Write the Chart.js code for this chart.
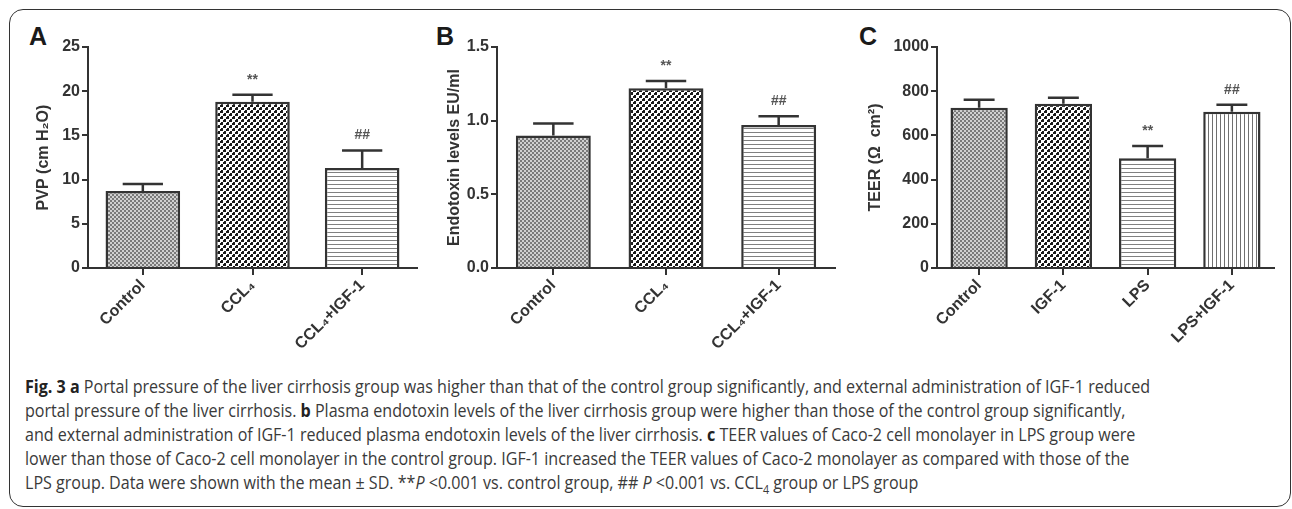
<!DOCTYPE html>
<html>
<head>
<meta charset="utf-8">
<script src="https://cdn.jsdelivr.net/npm/chart.js@4.4.1/dist/chart.umd.min.js"></script>
<style>
  body { margin: 0; background: #fff; width: 1292px; height: 509px; overflow: hidden; position: relative; }
  .frame { position: absolute; left: 9px; top: 9px; width: 1280px; height: 496px; border: 1.5px solid #333; border-radius: 14px; }
  .panel { position: absolute; top: 20px; height: 340px; }
  .letter { position: absolute; top: 22px; font: bold 25px "Liberation Sans", Arial, sans-serif; color: #1a1a1a; }
  .caption { position: absolute; left: 25px; top: 374px; font-family: "Open Sans", sans-serif; font-size: 18px;
             line-height: 24px; color: #3a3a3a; white-space: nowrap; transform-origin: 0 0; }
  .caption b { font-weight: 700; color: #222; }
</style>
</head>
<body>
<div class="frame"></div>

<div class="letter" style="left:29px">A</div>
<div class="letter" style="left:436px">B</div>
<div class="letter" style="left:859px">C</div>

<div class="panel" style="left:10px;width:410px"><canvas id="chartA"></canvas></div>
<div class="panel" style="left:420px;width:418px"><canvas id="chartB"></canvas></div>
<div class="panel" style="left:840px;width:437px"><canvas id="chartC"></canvas></div>

<div class="caption" id="caption">
  <div id="line1"><b>Fig. 3 a</b> Portal pressure of the liver cirrhosis group was higher than that of the control group significantly, and external administration of IGF-1 reduced</div>
  <div>portal pressure of the liver cirrhosis. <b>b</b> Plasma endotoxin levels of the liver cirrhosis group were higher than those of the control group significantly,</div>
  <div>and external administration of IGF-1 reduced plasma endotoxin levels of the liver cirrhosis. <b>c</b> TEER values of Caco-2 cell monolayer in LPS group were</div>
  <div>lower than those of Caco-2 cell monolayer in the control group. IGF-1 increased the TEER values of Caco-2 monolayer as compared with those of the</div>
  <div>LPS group. Data were shown with the mean ± SD. **<i>P</i> &lt;0.001 vs. control group, ## <i>P</i> &lt;0.001 vs. CCL<sub style="font-size:12px">4</sub> group or LPS group</div>
</div>

<script>
// panel A: portal venous pressure
const labelsA = ["Control", "CCL₄", "CCL₄+IGF-1"];
const meanA = [8.7, 18.8, 11.3];
const sdA = [0.8, 0.8, 2.0];
const markA = ["", "**", "##"];

// panel B: endotoxin
const labelsB = ["Control", "CCL₄", "CCL₄+IGF-1"];
const meanB = [0.90, 1.22, 0.97];
const sdB = [0.08, 0.05, 0.06];
const markB = ["", "**", "##"];

// panel C: TEER
const labelsC = ["Control", "IGF-1", "LPS", "LPS+IGF-1"];
const meanC = [725, 743, 497, 707];
const sdC = [36, 27, 55, 32];
const markC = ["", "", "**", "##"];

Chart.defaults.font.family = "'Liberation Sans', Arial, sans-serif";
Chart.defaults.color = "#333";

function makePattern(kind) {
  const c = document.createElement("canvas");
  const g = c.getContext("2d");
  if (kind === "fine") {
    c.width = c.height = 4;
    g.fillStyle = "#d0d0d0"; g.fillRect(0, 0, 4, 4);
    g.fillStyle = "#7a7a7a"; g.fillRect(0, 0, 2, 2); g.fillRect(2, 2, 2, 2);
  } else if (kind === "dots") {
    c.width = c.height = 6;
    g.fillStyle = "#fff"; g.fillRect(0, 0, 6, 6);
    g.fillStyle = "#1a1a1a"; g.fillRect(0, 0, 3, 3); g.fillRect(3, 3, 3, 3);
    g.fillStyle = "#fff"; g.fillRect(0, 0, 1, 1); g.fillRect(3, 3, 1, 1);
  } else if (kind === "hlines") {
    c.width = 1; c.height = 4;
    g.fillStyle = "#fff"; g.fillRect(0, 0, 1, 4);
    g.fillStyle = "#808080"; g.fillRect(0, 0, 1, 1);
  } else {
    c.width = 4; c.height = 1;
    g.fillStyle = "#fff"; g.fillRect(0, 0, 4, 1);
    g.fillStyle = "#707070"; g.fillRect(0, 0, 1, 1);
  }
  return g.createPattern(c, "repeat");
}

const errorBars = {
  id: "errorBars",
  afterDatasetsDraw(chart, args, opts) {
    const ctx = chart.ctx, y = chart.scales.y;
    const ds = chart.data.datasets[0];
    ctx.save();
    chart.getDatasetMeta(0).data.forEach((bar, i) => {
      const top = y.getPixelForValue(ds.data[i] + opts.sd[i]);
      const half = bar.width * 0.27;
      ctx.strokeStyle = "#333";
      ctx.lineWidth = 2.5;
      ctx.beginPath();
      ctx.moveTo(bar.x, bar.y);
      ctx.lineTo(bar.x, top);
      ctx.moveTo(bar.x - half, top);
      ctx.lineTo(bar.x + half, top);
      ctx.stroke();
      if (opts.marks[i]) {
        ctx.fillStyle = "#555";
        ctx.font = "bold 14px 'Liberation Sans', Arial, sans-serif";
        ctx.textAlign = "center";
        ctx.textBaseline = "middle";
        ctx.fillText(opts.marks[i], bar.x, top - 15);
      }
    });
    ctx.restore();
  },
};

function buildChart(id, labels, means, sds, marks, fills, ax) {
  return new Chart(document.getElementById(id), {
    type: "bar",
    data: {
      labels: labels,
      datasets: [{
        data: means,
        backgroundColor: fills.map(makePattern),
        borderColor: "#333",
        borderWidth: 2.5,
        categoryPercentage: 1,
        barPercentage: ax.barPct,
      }],
    },
    options: {
      animation: false,
      responsive: true,
      maintainAspectRatio: false,
      layout: { padding: { top: 27, right: 3, left: 0, bottom: 0 } },
      plugins: {
        legend: { display: false },
        tooltip: { enabled: false },
        errorBars: { sd: sds, marks: marks },
      },
      scales: {
        x: {
          grid: { display: true, drawOnChartArea: false, offset: false, tickLength: 7, color: "#333", lineWidth: 2 },
          border: { color: "#333", width: 2 },
          ticks: {
            autoSkip: false, maxRotation: 45, minRotation: 45, padding: 1,
            font: { size: 16, weight: "bold" }, color: "#333",
          },
          afterFit(s) { s.height = 92; s.paddingLeft = 0; s.paddingRight = 0; },
        },
        y: {
          min: 0,
          max: ax.max,
          grid: { display: true, drawOnChartArea: false, tickLength: 6, color: "#333", lineWidth: 2 },
          border: { color: "#333", width: 2 },
          ticks: {
            stepSize: ax.step, padding: 2,
            font: { size: 16, weight: "bold" }, color: "#333",
            callback: v => v.toFixed(ax.dec),
          },
          title: {
            display: true, text: ax.title, color: "#333",
            font: { size: 16, weight: "bold" },
            padding: { top: ax.titlePad, bottom: 0 },
          },
          afterFit(s) { s.width = ax.width; s.paddingTop = 0; s.paddingBottom = 0; },
        },
      },
    },
    plugins: [errorBars],
  });
}

buildChart("chartA", labelsA, meanA, sdA, markA, ["fine", "dots", "hlines"],
  { max: 25, step: 5, dec: 0, title: "PVP (cm H₂O)", width: 78, titlePad: 24, barPct: 0.68 });
buildChart("chartB", labelsB, meanB, sdB, markB, ["fine", "dots", "hlines"],
  { max: 1.5, step: 0.5, dec: 1, title: "Endotoxin levels EU/ml", width: 77, titlePad: 25, barPct: 0.665 });
buildChart("chartC", labelsC, meanC, sdC, markC, ["fine", "dots", "hlines", "vlines"],
  { max: 1000, step: 200, dec: 0, title: "TEER (Ω  cm²)", width: 97, titlePad: 26, barPct: 0.68 });

// squeeze the caption so its first line spans the same width as in the figure
const cap = document.getElementById("caption");
const l1 = document.getElementById("line1");
const range = document.createRange();
range.selectNodeContents(l1);
const w = range.getBoundingClientRect().width;
cap.style.transform = "scaleX(" + (1125 / w) + ")";
</script>
</body>
</html>
